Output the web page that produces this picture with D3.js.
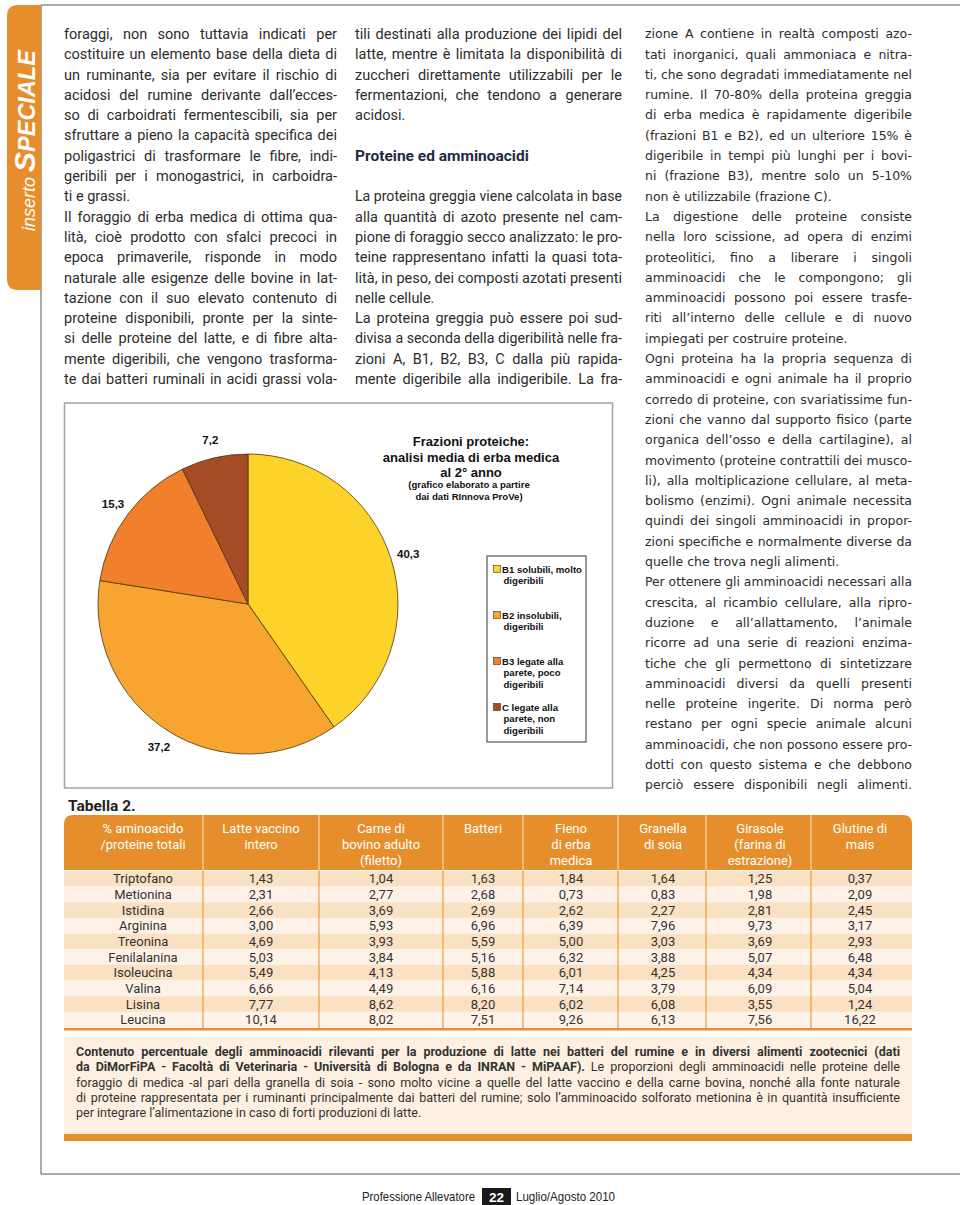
<!DOCTYPE html>
<html><head><meta charset="utf-8">
<script src="https://cdn.jsdelivr.net/npm/d3@7"></script>
<style>body{margin:0;background:#fff}svg{display:block}</style>
</head><body>
<svg id="page" width="960" height="1205"></svg>
<script>
// ---------------- DATA ----------------
const pieCategories = ["B1", "B2", "B3", "C"];
const pieValues = [40.3, 37.2, 15.3, 7.2];
const pieLabels = ["40,3", "37,2", "15,3", "7,2"];
const legendLines = [
  ["B1 solubili, molto", "digeribili"],
  ["B2 insolubili,", "digeribili"],
  ["B3 legate alla", "parete, poco", "digeribili"],
  ["C legate alla", "parete, non", "digeribili"]
];
const chartTitle = ["Frazioni proteiche:", "analisi media di erba medica", "al 2° anno"];
const chartSubtitle = ["(grafico elaborato a partire", "dai dati RInnova ProVe)"];

const tableHeaders = [
  ["% aminoacido", "/proteine totali"],
  ["Latte vaccino", "intero"],
  ["Carne di", "bovino adulto", "(filetto)"],
  ["Batteri"],
  ["Fieno", "di erba", "medica"],
  ["Granella", "di soia"],
  ["Girasole", "(farina di", "estrazione)"],
  ["Glutine di", "mais"]
];
const aminoacids = ["Triptofano", "Metionina", "Istidina", "Arginina", "Treonina", "Fenilalanina", "Isoleucina", "Valina", "Lisina", "Leucina"];
const latte    = [1.43, 2.31, 2.66, 3.00, 4.69, 5.03, 5.49, 6.66, 7.77, 10.14];
const carne    = [1.04, 2.77, 3.69, 5.93, 3.93, 3.84, 4.13, 4.49, 8.62, 8.02];
const batteri  = [1.63, 2.68, 2.69, 6.96, 5.59, 5.16, 5.88, 6.16, 8.20, 7.51];
const fieno    = [1.84, 0.73, 2.62, 6.39, 5.00, 6.32, 6.01, 7.14, 6.02, 9.26];
const soia     = [1.64, 0.83, 2.27, 7.96, 3.03, 3.88, 4.25, 3.79, 6.08, 6.13];
const girasole = [1.25, 1.98, 2.81, 9.73, 3.69, 5.07, 4.34, 6.09, 3.55, 7.56];
const glutine  = [0.37, 2.09, 2.45, 3.17, 2.93, 6.48, 4.34, 5.04, 1.24, 16.22];

const col1Lines = [
"foraggi, non sono tuttavia indicati per",
"costituire un elemento base della dieta di",
"un ruminante, sia per evitare il rischio di",
"acidosi del rumine derivante dall’ecces-",
"so di carboidrati fermentescibili, sia per",
"sfruttare a pieno la capacità specifica dei",
"poligastrici di trasformare le fibre, indi-",
"geribili per i monogastrici, in carboidra-",
"ti e grassi.¶",
"Il foraggio di erba medica di ottima qua-",
"lità, cioè prodotto con sfalci precoci in",
"epoca primaverile, risponde in modo",
"naturale alle esigenze delle bovine in lat-",
"tazione con il suo elevato contenuto di",
"proteine disponibili, pronte per la sinte-",
"si delle proteine del latte, e di fibre alta-",
"mente digeribili, che vengono trasforma-",
"te dai batteri ruminali in acidi grassi vola-"
];
const col2Lines = [
"tili destinati alla produzione dei lipidi del",
"latte, mentre è limitata la disponibilità di",
"zuccheri direttamente utilizzabili per le",
"fermentazioni, che tendono a generare",
"acidosi.¶",
"",
"##Proteine ed amminoacidi",
"",
"La proteina greggia viene calcolata in base",
"alla quantità di azoto presente nel cam-",
"pione di foraggio secco analizzato: le pro-",
"teine rappresentano infatti la quasi tota-",
"lità, in peso, dei composti azotati presenti",
"nelle cellule.¶",
"La proteina greggia può essere poi sud-",
"divisa a seconda della digeribilità nelle fra-",
"zioni A, B1, B2, B3, C dalla più rapida-",
"mente digeribile alla indigeribile. La fra-"
];
const col3Lines = [
"zione A contiene in realtà composti azo-",
"tati inorganici, quali ammoniaca e nitra-",
"ti, che sono degradati immediatamente nel",
"rumine. Il 70-80% della proteina greggia",
"di erba medica è rapidamente digeribile",
"(frazioni B1 e B2), ed un ulteriore 15% è",
"digeribile in tempi più lunghi per i bovi-",
"ni (frazione B3), mentre solo un 5-10%",
"non è utilizzabile (frazione C).¶",
"La digestione delle proteine consiste",
"nella loro scissione, ad opera di enzimi",
"proteolitici, fino a liberare i singoli",
"amminoacidi che le compongono; gli",
"amminoacidi possono poi essere trasfe-",
"riti all’interno delle cellule e di nuovo",
"impiegati per costruire proteine.¶",
"Ogni proteina ha la propria sequenza di",
"amminoacidi e ogni animale ha il proprio",
"corredo di proteine, con svariatissime fun-",
"zioni che vanno dal supporto fisico (parte",
"organica dell’osso e della cartilagine), al",
"movimento (proteine contrattili dei musco-",
"li), alla moltiplicazione cellulare, al meta-",
"bolismo (enzimi). Ogni animale necessita",
"quindi dei singoli amminoacidi in propor-",
"zioni specifiche e normalmente diverse da",
"quelle che trova negli alimenti.¶",
"Per ottenere gli amminoacidi necessari alla",
"crescita, al ricambio cellulare, alla ripro-",
"duzione e all’allattamento, l’animale",
"ricorre ad una serie di reazioni enzima-",
"tiche che gli permettono di sintetizzare",
"amminoacidi diversi da quelli presenti",
"nelle proteine ingerite. Di norma però",
"restano per ogni specie animale alcuni",
"amminoacidi, che non possono essere pro-",
"dotti con questo sistema e che debbono",
"perciò essere disponibili negli alimenti."
];
const captionLines = [
"**Contenuto percentuale degli amminoacidi rilevanti per la produzione di latte nei batteri del rumine e in diversi alimenti zootecnici (dati**",
"**da DiMorFiPA - Facoltà di Veterinaria - Università di Bologna e da INRAN - MiPAAF).** Le proporzioni degli amminoacidi nelle proteine delle",
"foraggio di medica -al pari della granella di soia - sono molto vicine a quelle del latte vaccino e della carne bovina, nonché alla fonte naturale",
"di proteine rappresentata per i ruminanti principalmente dai batteri del rumine; solo l’amminoacido solforato metionina è in quantità insufficiente",
"per integrare l’alimentazione in caso di forti produzioni di latte.¶"
];

// ---------------- STYLE CONSTANTS ----------------
const ORANGE = "#E78E2C";
const pieColors = ["#FDD329", "#F7A530", "#F27F2C", "#A54B26"];
const TEXT = "#2c2c2c";
const F_BODY = "Roboto, 'Liberation Sans', sans-serif";
const F_COL3 = "'DejaVu Sans', Verdana, sans-serif";
const F_ARIAL = "'Liberation Sans', Arial, sans-serif";

const svg = d3.select("#page");
const meas = svg.append("text").attr("x", -2000).attr("y", -2000);
function tw(s, fam, size, weight) {
  meas.attr("font-family", fam).attr("font-size", size).attr("font-weight", weight || "normal").text(s);
  return meas.node().getComputedTextLength();
}
function parseTokens(s) {
  const toks = [];
  s.split("**").forEach((p, pi) => p.split(" ").filter(w => w.length).forEach(w => toks.push({w, b: pi % 2 === 1})));
  return toks;
}
function drawLine(toks, x0, yb, W, justify, fam, size, fill) {
  const ws = toks.map(t => tw(t.w, fam, size, t.b ? "bold" : "normal"));
  const sp = tw("n n", fam, size) - tw("nn", fam, size);
  const T = d3.sum(ws), n = toks.length;
  const N = T + (n - 1) * sp;
  const k = N > W ? W / N : 1;
  const gap = (justify && n > 1 && N <= W) ? (W - T) / (n - 1) : sp;
  const g = svg.append("g").attr("transform", `translate(${x0},${yb}) scale(${k},1)`);
  let x = 0;
  toks.forEach((t, i) => {
    g.append("text").attr("x", x).attr("y", 0).attr("font-family", fam).attr("font-size", size)
      .attr("font-weight", t.b ? "bold" : "normal").attr("fill", fill).text(t.w);
    x += ws[i] + gap;
  });
}
function drawBlock(lines, x0, W, yc0, lh, fam, size, fill) {
  lines.forEach((raw, i) => {
    if (raw === "") return;
    const yb = yc0 + i * lh + size * 0.34;
    if (raw.startsWith("##")) {
      svg.append("text").attr("x", x0).attr("y", yb + 0.5).attr("font-family", F_BODY).attr("font-size", 15.5)
        .attr("font-weight", "bold").attr("fill", "#1f2a44").text(raw.slice(2));
      return;
    }
    let justify = true, s = raw;
    if (s.endsWith("¶")) { justify = false; s = s.slice(0, -1); }
    drawLine(parseTokens(s), x0, yb, W, justify, fam, size, fill);
  });
}

// ---------------- FRAME / SIDEBAR ----------------
svg.append("line").attr("x1", 41).attr("x2", 960).attr("y1", 5).attr("y2", 5).attr("stroke", "#555").attr("stroke-width", 1);
svg.append("line").attr("x1", 41).attr("x2", 41).attr("y1", 5).attr("y2", 1174).attr("stroke", "#555").attr("stroke-width", 1);
svg.append("line").attr("x1", 41).attr("x2", 960).attr("y1", 1174).attr("y2", 1174).attr("stroke", "#555").attr("stroke-width", 1);

svg.append("path").attr("d", "M41,5 H18 Q7,5 7,16 V279 Q7,290 18,290 H41 Z").attr("fill", ORANGE);
const side = svg.append("text").attr("transform", "translate(35,231) rotate(-90)").attr("font-family", F_ARIAL)
  .attr("fill", "#fff").attr("font-style", "italic");
side.append("tspan").attr("font-size", 18).text("inserto ");
side.append("tspan").attr("font-size", 30).attr("font-weight", "bold").text("S");
side.append("tspan").attr("font-size", 23.5).attr("font-weight", "bold").text("PECIALE");

// ---------------- TEXT COLUMNS ----------------
const LH = 20.3;
drawBlock(col1Lines, 64, 273, 34, LH, F_BODY, 14.5, TEXT);
drawBlock(col2Lines, 355, 267, 34, LH, F_BODY, 14.5, TEXT);
drawBlock(col3Lines, 645, 267, 34, LH, F_COL3, 12.5, TEXT);

// ---------------- PIE CHART ----------------
svg.append("rect").attr("x", 64.5).attr("y", 403).attr("width", 548).attr("height", 385)
  .attr("fill", "#fff").attr("stroke", "#a3a3a3").attr("stroke-width", 1.5);

const cx = 248, cy = 604, R = 150;
const arcs = d3.pie().sort(null).value(d => d)(pieValues);
const arcGen = d3.arc().innerRadius(0).outerRadius(R);
const labelArc = d3.arc().innerRadius(168).outerRadius(168);
const pg = svg.append("g").attr("transform", `translate(${cx},${cy})`);
pg.selectAll("path").data(arcs).join("path").attr("d", arcGen)
  .attr("fill", (d, i) => pieColors[i]).attr("stroke", "#4a3a12").attr("stroke-width", 0.8);
pg.selectAll("text").data(arcs).join("text")
  .attr("transform", d => `translate(${labelArc.centroid(d)})`)
  .attr("text-anchor", "middle").attr("dy", "0.36em")
  .attr("font-family", F_ARIAL).attr("font-weight", "bold").attr("font-size", 11.5).attr("fill", "#111")
  .text((d, i) => pieLabels[i]);

// title
chartTitle.forEach((t, i) => {
  svg.append("text").attr("x", 471).attr("y", 446 + i * 15.5).attr("text-anchor", "middle")
    .attr("font-family", F_ARIAL).attr("font-weight", "bold").attr("font-size", 13).attr("fill", "#111").text(t);
});
chartSubtitle.forEach((t, i) => {
  svg.append("text").attr("x", 469).attr("y", 488 + i * 12).attr("text-anchor", "middle")
    .attr("font-family", F_ARIAL).attr("font-weight", "bold").attr("font-size", 9.6).attr("fill", "#111").text(t);
});

// legend
svg.append("rect").attr("x", 487).attr("y", 556).attr("width", 99).attr("height", 186)
  .attr("fill", "#fff").attr("stroke", "#555").attr("stroke-width", 1.2);
legendLines.forEach((lines, i) => {
  const y0 = 569 + i * 46;
  svg.append("rect").attr("x", 493.5).attr("y", y0 - 3.5).attr("width", 7).attr("height", 7)
    .attr("fill", pieColors[i]).attr("stroke", "#333").attr("stroke-width", 0.6);
  lines.forEach((t, j) => {
    svg.append("text").attr("x", j === 0 ? 502 : 503.5).attr("y", y0 + j * 11.5 + 3.5)
      .attr("font-family", F_ARIAL).attr("font-weight", "bold").attr("font-size", 9.6).attr("fill", "#111").text(t);
  });
});

// ---------------- TABLE ----------------
svg.append("text").attr("x", 68).attr("y", 810.5).attr("font-family", F_BODY).attr("font-weight", "bold")
  .attr("font-size", 15.5).attr("fill", "#222").text("Tabella 2.");

const edges = [64, 203, 319, 443, 523, 618, 706, 811, 912];
const centers = [143, 261, 381, 483, 571, 663, 760, 860];
const tableSeries = [latte, carne, batteri, fieno, soia, girasole, glutine];
const fmt = d3.formatLocale({decimal: ",", thousands: ".", grouping: [3], currency: ["", "€"]}).format(".2f");

svg.append("path").attr("d", "M64,870 V824 Q64,815 73,815 H903 Q912,815 912,824 V870 Z").attr("fill", ORANGE);
edges.slice(1, -1).forEach(x => {
  svg.append("line").attr("x1", x).attr("x2", x).attr("y1", 815).attr("y2", 870).attr("stroke", "#F8D3A6").attr("stroke-width", 1.2);
});
tableHeaders.forEach((lines, c) => {
  lines.forEach((t, j) => {
    svg.append("text").attr("x", centers[c]).attr("y", 832.5 + j * 16).attr("text-anchor", "middle")
      .attr("font-family", F_BODY).attr("font-size", 13).attr("fill", "#fff").text(t);
  });
});

const yRow = d3.scaleBand().domain(aminoacids).range([871, 1027.5]).padding(0);
svg.selectAll("rect.row").data(aminoacids).join("rect").attr("class", "row")
  .attr("x", 64).attr("width", 848).attr("y", d => yRow(d)).attr("height", yRow.bandwidth())
  .attr("fill", (d, i) => i % 2 === 0 ? "#FBE1C3" : "#FEF2E6");
edges.slice(1, -1).forEach(x => {
  svg.append("line").attr("x1", x).attr("x2", x).attr("y1", 870).attr("y2", 1028).attr("stroke", ORANGE).attr("stroke-width", 1);
});
svg.append("rect").attr("x", 64).attr("y", 1028).attr("width", 848).attr("height", 2.5).attr("fill", ORANGE);

svg.selectAll("text.aa").data(aminoacids).join("text").attr("class", "aa")
  .attr("x", centers[0]).attr("y", d => yRow(d) + yRow.bandwidth() / 2 + 4.6).attr("text-anchor", "middle")
  .attr("font-family", F_BODY).attr("font-size", 13).attr("fill", "#333").text(d => d);
tableSeries.forEach((series, c) => {
  svg.selectAll(null).data(series).join("text")
    .attr("x", centers[c + 1]).attr("y", (d, i) => yRow(aminoacids[i]) + yRow.bandwidth() / 2 + 4.6)
    .attr("text-anchor", "middle").attr("font-family", F_BODY).attr("font-size", 13).attr("fill", "#333")
    .text(d => fmt(d));
});

// caption
svg.append("rect").attr("x", 64).attr("y", 1037).attr("width", 848).attr("height", 97).attr("fill", "#FDF0E2");
svg.append("rect").attr("x", 64).attr("y", 1134).attr("width", 848).attr("height", 7).attr("fill", ORANGE);
drawBlock(captionLines, 76, 824, 1052, 15.2, F_BODY, 12.5, "#333");

// ---------------- FOOTER ----------------
svg.append("text").attr("x", 362).attr("y", 1201).attr("font-family", "'Liberation Sans Narrow','Liberation Sans',sans-serif")
  .attr("font-size", 13.5).attr("fill", "#222").attr("textLength", 113).attr("lengthAdjust", "spacingAndGlyphs").text("Professione Allevatore");
svg.append("rect").attr("x", 482).attr("y", 1188).attr("width", 29).attr("height", 17).attr("fill", "#1a1a1a");
svg.append("text").attr("x", 496.5).attr("y", 1201.5).attr("text-anchor", "middle").attr("font-family", F_ARIAL)
  .attr("font-weight", "bold").attr("font-size", 13.5).attr("fill", "#fff").text("22");
svg.append("text").attr("x", 516).attr("y", 1201).attr("font-family", "'Liberation Sans Narrow','Liberation Sans',sans-serif")
  .attr("font-size", 13.5).attr("fill", "#222").attr("textLength", 99).attr("lengthAdjust", "spacingAndGlyphs").text("Luglio/Agosto 2010");

meas.remove();
</script>
</body></html>
